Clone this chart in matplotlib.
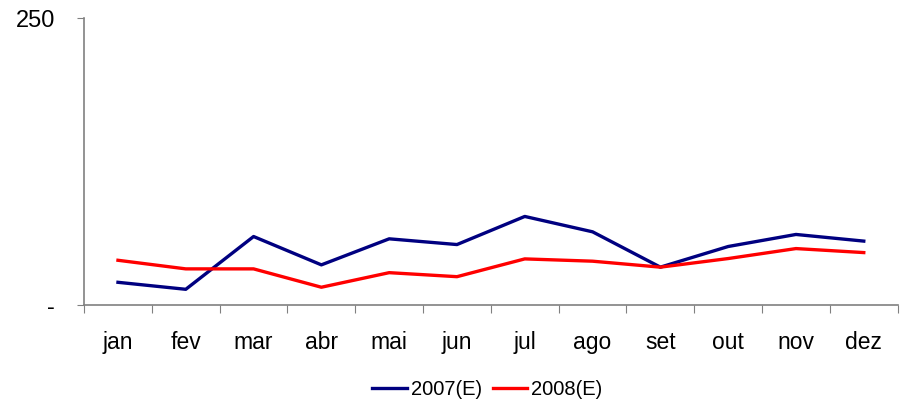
import numpy as np
import matplotlib
matplotlib.use("Agg")
import matplotlib.pyplot as plt

plt.rcParams["font.family"] = ["Liberation Sans", "DejaVu Sans"]

MONTHS = ["jan", "fev", "mar", "abr", "mai", "jun",
          "jul", "ago", "set", "out", "nov", "dez"]
S2007 = [19.8, 13.7, 59.7, 35.0, 57.7, 52.7, 77.2, 63.8, 33.0, 51.0, 61.5, 55.7]
S2008 = [39.0, 31.5, 31.5, 15.5, 28.2, 24.7, 40.2, 38.2, 33.0, 40.5, 49.2, 45.7]


def main():
    fig = plt.figure(figsize=(9.04, 4.04), dpi=100)
    ax = fig.add_axes([0.093, 0.245, 0.9, 0.71])
    x = np.arange(len(MONTHS)) + 0.5
    ax.plot(x, S2007, color="#000080", lw=2.4, label="2007(E)")
    ax.plot(x, S2008, color="#ff0000", lw=2.4, label="2008(E)")

    ax.set_xlim(0, len(MONTHS))
    ax.set_ylim(0, 250)
    ax.set_yticks([0, 250])
    ax.set_yticklabels(["-", "250"], fontsize=17)
    ax.set_xticks(np.arange(len(MONTHS) + 1))
    ax.set_xticklabels([])
    ax.set_xticks(x, minor=True)
    ax.set_xticklabels(MONTHS, minor=True, fontsize=16.5)
    ax.tick_params(axis="x", which="minor", length=0, pad=19)
    ax.tick_params(axis="x", which="major", length=6, color="#808080")
    ax.tick_params(axis="y", length=5, color="#808080", pad=16)

    for s in ["top", "right"]:
        ax.spines[s].set_visible(False)
    for s in ["left", "bottom"]:
        ax.spines[s].set_color("#808080")
        ax.spines[s].set_linewidth(1.2)

    fig.legend(loc="center", bbox_to_anchor=(0.539, 0.035), ncol=2,
               frameon=False, fontsize=14.5, handlelength=1.7,
               columnspacing=0.55, handletextpad=0.2)
    fig.savefig("out.png", dpi=100)
    plt.close(fig)


if __name__ == "__main__":
    main()
